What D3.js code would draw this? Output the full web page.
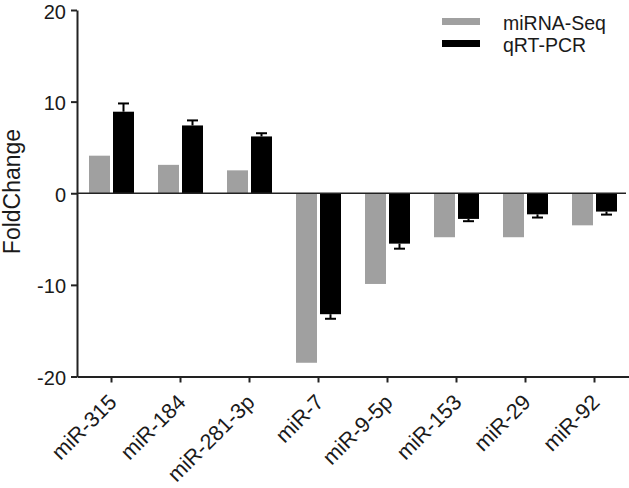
<!DOCTYPE html>
<html>
<head>
<meta charset="utf-8">
<script src="https://cdn.jsdelivr.net/npm/d3@7"></script>
<style>
  body { margin: 0; background: #fff; }
  text { font-family: "Liberation Sans", Arial, sans-serif; fill: #1a1a1a; }
</style>
</head>
<body>
<script>
// chart data
const categories = ["miR-315", "miR-184", "miR-281-3p", "miR-7", "miR-9-5p", "miR-153", "miR-29", "miR-92"];
const seqValues = [4.1, 3.1, 2.5, -18.5, -9.9, -4.8, -4.8, -3.5];
const pcrValues = [8.9, 7.4, 6.2, -13.2, -5.5, -2.8, -2.3, -2.0];
const pcrErrors = [0.9, 0.55, 0.35, 0.5, 0.55, 0.25, 0.35, 0.33];
const yTicks = [-20, -10, 0, 10, 20];
const seriesNames = ["miRNA-Seq", "qRT-PCR"];
const seriesColors = ["#a0a0a0", "#000000"];

const width = 629;
const height = 488;
const margin = { top: 10, right: 0, bottom: 111.5, left: 77 };

const svg = d3.select("body")
  .append("svg")
  .attr("width", width)
  .attr("height", height);

const x = d3.scaleBand()
  .domain(categories)
  .range([margin.left, width - margin.right])
  .padding(0);

const y = d3.scaleLinear()
  .domain([-20, 20])
  .range([height - margin.bottom, margin.top]);

const barW = 21;
const gap = 3;

// bars: grey (sequencing)
svg.append("g")
  .selectAll("rect")
  .data(categories)
  .join("rect")
  .attr("x", (d) => x(d) + x.bandwidth() / 2 - gap / 2 - barW)
  .attr("y", (d, i) => Math.min(y(seqValues[i]), y(0)))
  .attr("width", barW)
  .attr("height", (d, i) => Math.abs(y(seqValues[i]) - y(0)))
  .attr("fill", seriesColors[0]);

// error bars for qRT-PCR (outward half only)
const errG = svg.append("g").attr("stroke", "#000").attr("stroke-width", 2);
categories.forEach((c, i) => {
  const cx = x(c) + x.bandwidth() / 2 + gap / 2 + barW / 2;
  const v = pcrValues[i];
  const end = v >= 0 ? v + pcrErrors[i] : v - pcrErrors[i];
  errG.append("line")
    .attr("x1", cx).attr("x2", cx)
    .attr("y1", y(v)).attr("y2", y(end));
  errG.append("line")
    .attr("x1", cx - 5.5).attr("x2", cx + 5.5)
    .attr("y1", y(end)).attr("y2", y(end));
});

// bars: black (qRT-PCR)
svg.append("g")
  .selectAll("rect")
  .data(categories)
  .join("rect")
  .attr("x", (d) => x(d) + x.bandwidth() / 2 + gap / 2)
  .attr("y", (d, i) => Math.min(y(pcrValues[i]), y(0)))
  .attr("width", barW)
  .attr("height", (d, i) => Math.abs(y(pcrValues[i]) - y(0)))
  .attr("fill", seriesColors[1]);

// zero line
svg.append("line")
  .attr("x1", margin.left)
  .attr("x2", 626)
  .attr("y1", y(0))
  .attr("y2", y(0))
  .attr("stroke", "#222")
  .attr("stroke-width", 1.6);

// y axis
const yAxis = svg.append("g")
  .attr("transform", `translate(${margin.left},0)`)
  .call(d3.axisLeft(y).tickValues(yTicks).tickFormat((d) => String(d))
    .tickSize(6).tickPadding(5).tickSizeOuter(0));
yAxis.select(".domain").attr("stroke", "#222").attr("stroke-width", 2);
yAxis.selectAll(".tick line").attr("stroke", "#222").attr("stroke-width", 2);
yAxis.selectAll(".tick text")
  .style("font-size", "20px")
  .attr("dy", "0.4em")
  .attr("fill", "#1a1a1a");

// x axis at bottom
const xAxis = svg.append("g")
  .attr("transform", `translate(0,${y(-20)})`)
  .call(d3.axisBottom(x).tickSize(6).tickSizeOuter(0));
xAxis.select(".domain").attr("stroke", "#222").attr("stroke-width", 2);
xAxis.selectAll(".tick line").attr("stroke", "#222").attr("stroke-width", 2);
xAxis.selectAll(".tick text")
  .style("font-size", "21.5px")
  .attr("fill", "#1a1a1a")
  .attr("text-anchor", "end")
  .attr("y", 0)
  .attr("dy", 0)
  .attr("transform", "translate(6.5,27) rotate(-45)");

// y axis title
svg.append("text")
  .attr("transform", "translate(19.5,191.5) rotate(-90)")
  .attr("text-anchor", "middle")
  .style("font-size", "23px")
  .text("FoldChange");

// legend
const legend = svg.append("g");
seriesNames.forEach((name, i) => {
  const ly = 18 + i * 22;
  legend.append("rect")
    .attr("x", 442)
    .attr("y", ly)
    .attr("width", 38)
    .attr("height", 7)
    .attr("fill", seriesColors[i]);
  legend.append("text")
    .attr("x", 503)
    .attr("y", ly + 12)
    .style("font-size", "19.5px")
    .text(name);
});
</script>
</body>
</html>
